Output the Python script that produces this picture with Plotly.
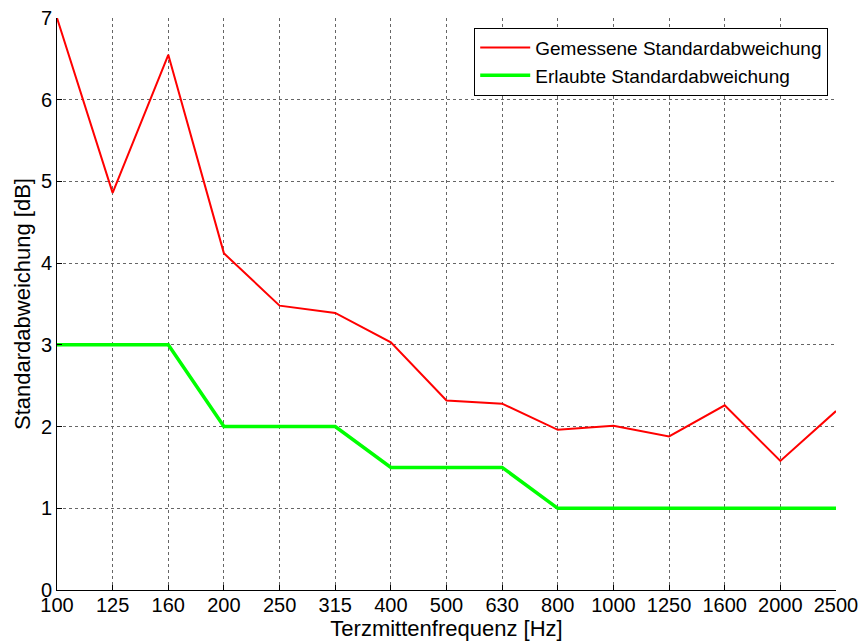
import plotly.graph_objects as go

freqs = ["100", "125", "160", "200", "250", "315", "400", "500", "630", "800",
         "1000", "1250", "1600", "2000", "2500"]
gemessen = [7.0, 4.86, 6.55, 4.12, 3.48, 3.39, 3.03, 2.32, 2.28, 1.96, 2.01, 1.88, 2.26, 1.58, 2.19]
erlaubt = [3, 3, 3, 2, 2, 2, 1.5, 1.5, 1.5, 1, 1, 1, 1, 1, 1]
y_ticks = [0, 1, 2, 3, 4, 5, 6, 7]

FONT = "Liberation Sans, Arial, sans-serif"

fig = go.Figure()
fig.add_trace(go.Scatter(x=freqs, y=gemessen, mode="lines", name="Gemessene Standardabweichung",
                         line=dict(color="#ff0000", width=2)))
fig.add_trace(go.Scatter(x=freqs, y=erlaubt, mode="lines", name="Erlaubte Standardabweichung",
                         line=dict(color="#00ff00", width=3.5)))

fig.update_layout(
    width=858, height=644,
    margin=dict(l=57, r=22, t=18, b=54),
    paper_bgcolor="white", plot_bgcolor="white",
    font=dict(family=FONT, color="black", size=20),
    legend=dict(x=0.99, y=0.983, xanchor="right", yanchor="top",
                bordercolor="black", borderwidth=1, bgcolor="white",
                font=dict(size=19), itemwidth=50, tracegroupgap=0),
    showlegend=True,
)
fig.update_xaxes(type="category", range=[0, len(freqs) - 1], automargin=False,
                 showline=True, linecolor="black", linewidth=1, mirror=False,
                 ticks="inside", ticklen=5, tickcolor="black",
                 showgrid=True, gridcolor="#666666", griddash="dot", gridwidth=1,
                 tickfont=dict(size=20), ticklabelstandoff=-3,
                 title=dict(text="Terzmittenfrequenz [Hz]", font=dict(size=22), standoff=2),
                 zeroline=False)
fig.update_yaxes(range=[0, 7], tickvals=y_ticks, automargin=False,
                 showline=True, linecolor="black", linewidth=1, mirror=False,
                 ticks="inside", ticklen=5, tickcolor="black",
                 showgrid=True, gridcolor="#666666", griddash="dot", gridwidth=1,
                 tickfont=dict(size=20),
                 title=dict(text="Standardabweichung [dB]", font=dict(size=22), standoff=4),
                 zeroline=False)

fig.write_html("out.html", config={"displayModeBar": False},
               post_script="document.body.style.margin='0px';")
